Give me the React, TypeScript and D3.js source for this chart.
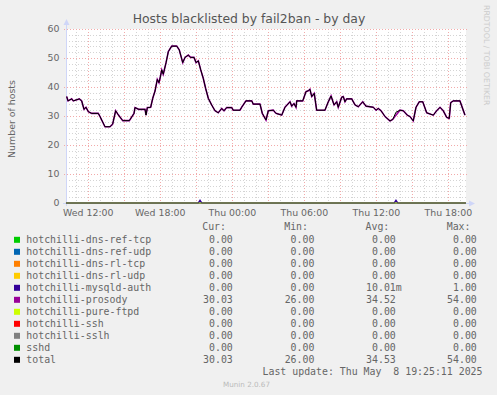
import React from "react";
import * as d3 from "d3";

const W = 497;
const H = 395;

// hours relative to Wed 12:00 (2025-05-07) and values of the prosody series
const hours = [-1.8, -1.69, -1.38, -1.25, -0.75, -0.55, -0.36, -0.19, 0, 0.28, 0.83, 0.98, 1.39, 1.81, 2.03, 2.28, 2.5, 2.87, 3.42, 3.81, 3.89, 4.2, 4.73, 4.81, 4.92, 5.2, 5.37, 5.56, 5.75, 5.89, 5.98, 6.12, 6.25, 6.48, 6.67, 6.95, 7.37, 7.58, 7.87, 8.06, 8.33, 8.53, 8.81, 8.98, 9.17, 9.37, 9.58, 9.78, 10, 10.28, 10.56, 10.83, 11.12, 11.31, 11.53, 11.95, 12.08, 12.64, 12.78, 13.14, 13.62, 13.75, 14.31, 14.5, 14.81, 15, 15.42, 15.64, 16.12, 16.39, 16.81, 16.95, 17.14, 17.31, 17.37, 17.87, 18.14, 18.33, 18.47, 18.62, 18.83, 19.03, 19.72, 20, 20.23, 20.48, 20.7, 20.83, 21.12, 21.25, 21.39, 21.53, 21.95, 22.23, 22.5, 22.87, 23.14, 23.75, 23.98, 24.17, 24.4, 24.73, 25.14, 25.37, 25.64, 25.97, 26.25, 26.58, 26.81, 27.08, 27.31, 27.58, 27.87, 28.2, 28.75, 29.03, 29.31, 29.58, 29.87, 30.08, 30.2, 30.42, 30.97, 31.39];
const prosodyValues = [36.7, 35.2, 35.9, 35.2, 35.9, 35.2, 32.3, 33, 31.5, 30.9, 30.9, 29.8, 26.3, 26.3, 27.2, 31.8, 30.4, 28.4, 28.4, 30.9, 32.9, 32.3, 32.3, 30.3, 32.9, 33, 36.1, 38.6, 42.6, 41.5, 43, 45.9, 44.4, 48.4, 52.2, 54.1, 54.1, 52.8, 48.4, 50.2, 51, 50.2, 50.2, 48.4, 49, 45.9, 43, 39.5, 36.1, 33.8, 31.8, 31.1, 32.6, 31.8, 32.9, 32.9, 32, 32, 33, 35.2, 35.2, 34.1, 34.1, 30.9, 28.6, 31.8, 32, 30.9, 30.3, 33, 34.9, 33.4, 34.3, 33, 35.2, 35.2, 38.4, 38.7, 39.2, 36.7, 37.8, 32, 32, 34.9, 36.9, 33.8, 34.9, 33, 36.5, 36.7, 34.9, 35.9, 35.9, 33.8, 33.2, 34.9, 33.4, 33, 32, 32.6, 31.8, 29.8, 28.3, 28.8, 30.3, 32, 31.8, 30.3, 29.8, 28.3, 33, 34.9, 34.9, 31.1, 30.3, 31.8, 33, 31.8, 29.5, 29.2, 34.6, 35.2, 35.2, 30.3];

// mysqld-auth short spikes
const mysqldHours = [-1.86, 9.15, 9.31, 9.47, 25.48, 25.64, 25.8, 31.47];
const mysqldValues = [0, 0, 1, 0, 0, 1, 0, 0];

const seriesNames = [
  "hotchilli-dns-ref-tcp",
  "hotchilli-dns-ref-udp",
  "hotchilli-dns-rl-tcp",
  "hotchilli-dns-rl-udp",
  "hotchilli-mysqld-auth",
  "hotchilli-prosody",
  "hotchilli-pure-ftpd",
  "hotchilli-ssh",
  "hotchilli-sslh",
  "sshd",
  "total",
];
const seriesColors = ["#00CC00", "#0066B3", "#FF8000", "#FFCC00", "#330099", "#990099", "#CCFF00", "#FF0000", "#808080", "#008F00", "#000000"];
const curCol = ["0.00", "0.00", "0.00", "0.00", "0.00", "30.03", "0.00", "0.00", "0.00", "0.00", "30.03"];
const minCol = ["0.00", "0.00", "0.00", "0.00", "0.00", "26.00", "0.00", "0.00", "0.00", "0.00", "26.00"];
const avgCol = ["0.00", "0.00", "0.00", "0.00", "10.01m", "34.52", "0.00", "0.00", "0.00", "0.00", "34.53"];
const maxCol = ["0.00", "0.00", "0.00", "0.00", "1.00", "54.00", "0.00", "0.00", "0.00", "0.00", "54.00"];

const yTicks = [0, 10, 20, 30, 40, 50, 60];

const BASE = Date.UTC(2025, 4, 7, 12, 0, 0);
const HOUR = 3600 * 1000;
const toDate = (h: number) => new Date(BASE + h * HOUR);

export default function App() {
  const left = 66, right = 466, top = 29, bottom = 203;
  const start = toDate(-1.858);
  const end = new Date(start.getTime() + (400 * 300) * 1000);
  const x = d3.scaleUtc().domain([start, end]).range([left, right]);
  const y = d3.scaleLinear().domain([0, 60]).range([bottom, top]);

  const hourTicks = d3.utcHour.every(1)!.range(start, end);
  const major3 = hourTicks.filter((d) => d.getUTCHours() % 3 === 0);
  const labelTicks = hourTicks.filter((d) => d.getUTCHours() % 6 === 0);
  const fmt = d3.utcFormat("%a %H:%M");
  const minorY = d3.range(0, 61, 2).filter((v) => v % 10 !== 0);

  const line = d3
    .line<[number, number]>()
    .x((d) => x(toDate(d[0])))
    .y((d) => y(d[1]));

  const mainPts: [number, number][] = hours.map((h, i) => [h, prosodyValues[i]]);
  const mysqlPts: [number, number][] = mysqldHours.map((h, i) => [h, mysqldValues[i]]);
  const totalPts: [number, number][] = hours.map((h, i) => {
    let extra = 0;
    mysqldHours.forEach((mh, j) => {
      if (Math.abs(mh - h) < 0.05) extra = mysqldValues[j];
    });
    return [h, prosodyValues[i] + extra];
  });
  const zeroPts: [number, number][] = [[-1.86, 0], [31.47, 0]];

  const seriesPaths = seriesNames.map((n, i) => {
    if (i === 4) return { i, pts: mysqlPts, w: 1.2, op: 1 };
    if (i === 5) return { i, pts: mainPts, w: 1.6, op: 1 };
    if (i === 10) return { i, pts: totalPts, w: 1, op: 1 };
    return { i, pts: zeroPts, w: 1, op: i === 9 ? 0.5 : 0.3 };
  });

  const sans = "DejaVu Sans, sans-serif";
  const mono = "DejaVu Sans Mono, monospace";
  const fontCol = "#666666";

  return (
    <svg
      width={W}
      height={H}
      style={{ position: "fixed", left: 0, top: 0, display: "block" }}
      xmlns="http://www.w3.org/2000/svg"
    >
      <rect x={0} y={0} width={W} height={H} fill="#F0F0F0" />
      <rect x={left} y={top} width={right - left} height={bottom - top} fill="#FFFFFF" />

      {/* minor grid */}
      <g stroke="#D4D4D4" strokeWidth={1} strokeDasharray="1,2" shapeRendering="crispEdges">
        {hourTicks
          .filter((d) => d.getUTCHours() % 3 !== 0)
          .map((d, i) => (
            <line key={"mv" + i} x1={Math.round(x(d)) + 0.5} x2={Math.round(x(d)) + 0.5} y1={top} y2={bottom} />
          ))}
        {minorY.map((v) => (
          <line key={"mh" + v} x1={left} x2={right} y1={Math.round(y(v)) + 0.5} y2={Math.round(y(v)) + 0.5} />
        ))}
      </g>
      {/* major grid */}
      <g stroke="#F2AAAA" strokeWidth={1} strokeDasharray="1,2" shapeRendering="crispEdges">
        {major3.map((d, i) => (
          <line key={"Mv" + i} x1={Math.round(x(d)) + 0.5} x2={Math.round(x(d)) + 0.5} y1={top} y2={bottom + 2} />
        ))}
        {yTicks.map((v) => (
          <line key={"Mh" + v} x1={left - 2} x2={right + 2} y1={Math.round(y(v)) + 0.5} y2={Math.round(y(v)) + 0.5} />
        ))}
      </g>

      {/* axes */}
      <g stroke="#CFD6F8" strokeWidth={1} shapeRendering="crispEdges">
        <line x1={left + 0.5} x2={left + 0.5} y1={bottom + 3} y2={top - 5} />
        <line x1={left - 3} x2={right + 4} y1={bottom + 0.5} y2={bottom + 0.5} />
      </g>
      <path d={`M${left - 2.5},${top - 4} L${left + 3.5},${top - 4} L${left + 0.5},${top - 10} Z`} fill="#CFD6F8" />
      <path d={`M${right + 3},${bottom - 2.5} L${right + 3},${bottom + 3.5} L${right + 9},${bottom + 0.5} Z`} fill="#CFD6F8" />

      {/* series, in munin draw order */}
      {seriesPaths.map((s) => (
        <path
          key={"s" + s.i}
          d={line(s.pts)!}
          fill="none"
          stroke={seriesColors[s.i]}
          strokeOpacity={s.op}
          strokeWidth={s.w}
        />
      ))}

      {/* y tick labels */}
      <g fontFamily={sans} fontSize={9.4} fill={fontCol} textAnchor="end">
        {yTicks.map((v) => (
          <text key={"yl" + v} x={59.5} y={y(v) + 3.4}>
            {v}
          </text>
        ))}
      </g>
      {/* x tick labels */}
      <g fontFamily={sans} fontSize={9.4} fill={fontCol} textAnchor="middle">
        {labelTicks.map((d, i) => (
          <text key={"xl" + i} x={x(d)} y={216}>
            {fmt(d)}
          </text>
        ))}
      </g>

      {/* title */}
      <text x={249} y={22.5} fontFamily={sans} fontSize={12.4} fill="#555555" textAnchor="middle">
        Hosts blacklisted by fail2ban - by day
      </text>
      {/* y label */}
      <text
        transform={`translate(15,${(top + bottom) / 2 + 3}) rotate(-90)`}
        fontFamily={sans}
        fontSize={9.4}
        fill={fontCol}
        textAnchor="middle"
      >
        Number of hosts
      </text>
      {/* rrdtool watermark */}
      <text transform="translate(484,5) rotate(90)" fontFamily={sans} fontSize={7.8} fill="#CCCCCC">
        RRDTOOL / TOBI OETIKER
      </text>

      {/* legend */}
      <g fontFamily={mono} fontSize={9.9} fill={fontCol}>
        <text x={226} y={230.2} textAnchor="end">Cur:</text>
        <text x={308} y={230.2} textAnchor="end">Min:</text>
        <text x={389.3} y={230.2} textAnchor="end">Avg:</text>
        <text x={470.5} y={230.2} textAnchor="end">Max:</text>
        {seriesNames.map((n, i) => {
          const cy = 239.8 + i * 12;
          const bl = cy + 3.5;
          const avg = avgCol[i];
          const hasUnit = /[a-zA-Z]$/.test(avg);
          return (
            <g key={n}>
              <rect x={14} y={cy - 3} width={6} height={6} fill={seriesColors[i]} />
              <text x={26.3} y={bl}>{n}</text>
              <text x={232.8} y={bl} textAnchor="end">{curCol[i]}</text>
              <text x={314.4} y={bl} textAnchor="end">{minCol[i]}</text>
              <text x={395.8} y={bl} textAnchor="end">{hasUnit ? avg.slice(0, -1) : avg}</text>
              {hasUnit && <text x={395.8} y={bl}>{avg.slice(-1)}</text>}
              <text x={476.8} y={bl} textAnchor="end">{maxCol[i]}</text>
            </g>
          );
        })}
        <text x={482.5} y={374.5} textAnchor="end" style={{ whiteSpace: "pre" }} xmlSpace="preserve">
          {"Last update: Thu May  8 19:25:11 2025"}
        </text>
      </g>
      <text x={223} y={387} fontFamily={sans} fontSize={7.2} fill="#BBBBBB">
        Munin 2.0.67
      </text>
    </svg>
  );
}
